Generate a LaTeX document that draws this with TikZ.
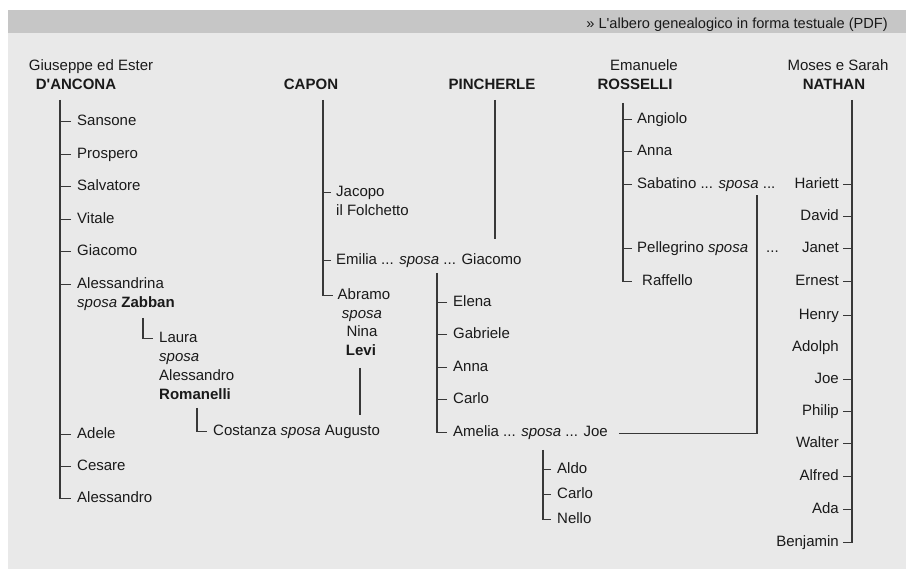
\documentclass[tikz,border=0pt]{standalone}
\usepackage{fontspec}
\setmainfont{Liberation Sans}
\definecolor{bgc}{HTML}{E9E9E9}
\definecolor{barc}{HTML}{C6C6C6}
\definecolor{txtc}{HTML}{1A1A1A}
\definecolor{lnc}{HTML}{383838}
\begin{document}
\begin{tikzpicture}[x=1pt,y=-1pt,
  nm/.style={font=\fontsize{15}{18}\selectfont, text=txtc, inner sep=0pt, text height=11pt, text depth=3pt, anchor=west, yshift=-2.5pt},
  nmr/.style={nm, anchor=east},
  nmc/.style={nm, anchor=center},
  ln/.style={draw=lnc, line width=1.8pt},
  dsh/.style={draw=lnc, line width=1.8pt}]
\useasboundingbox (0,0) rectangle (906,569);
\fill[white] (0,0) rectangle (906,569);
\fill[bgc] (8,10) rectangle (906,569);
\fill[barc] (8,10) rectangle (906,33);
\node[nm, anchor=east, font=\fontsize{14.6}{17}\selectfont] (pdf) at (888,22) {» L\textquotesingle albero genealogico in forma testuale (PDF)};
% headers
\node[nmc] (gh1) at (91,64) {Giuseppe ed Ester};
\node[nmc] (dancona) at (76,83) {\textbf{D\textquotesingle ANCONA}};
\node[nmc] (capon) at (311,83) {\textbf{CAPON}};
\node[nmc] (pincherle) at (492,83) {\textbf{PINCHERLE}};
\node[nmc] (eh1) at (644,64) {Emanuele};
\node[nmc] (rosselli) at (635,83) {\textbf{ROSSELLI}};
\node[nmc] (mh1) at (838,64) {Moses e Sarah};
\node[nmc] (nathan) at (834,83) {\textbf{NATHAN}};
% D'ANCONA
\coordinate (dA) at (60,100);
\node[nm] (sansone) at (77,119) {Sansone};
\node[nm] (prospero) at (77,152) {Prospero};
\node[nm] (salvatore) at (77,184) {Salvatore};
\node[nm] (vitale) at (77,217) {Vitale};
\node[nm] (giacomo) at (77,249) {Giacomo};
\node[nm] (alessandrina) at (77,282) {Alessandrina};
\node[nm] (zabban) at (77,301) {\textit{sposa} \textbf{Zabban}};
\node[nm] (adele) at (77,432) {Adele};
\node[nm] (cesare) at (77,464) {Cesare};
\node[nm] (alessandro) at (77,496) {Alessandro};
\draw[ln] (dA) |- ([xshift=-6pt]alessandro.west);
\foreach \c in {sansone,prospero,salvatore,vitale,giacomo,alessandrina,adele,cesare}
  \draw[dsh] ([xshift=-6pt]\c.west) -- (\c.west -| dA);
% Laura
\coordinate (lz) at (143,318);
\node[nm] (laura) at (159,336) {Laura};
\node[nm] (lsposa) at (159,355) {\textit{sposa}};
\node[nm] (lalessandro) at (159,374) {Alessandro};
\node[nm] (romanelli) at (159,393) {\textbf{Romanelli}};
\draw[ln] (lz) |- ([xshift=-6pt]laura.west);
% Costanza
\coordinate (cr) at (197,408);
\node[nm] (costanza) at (213,429) {Costanza \textit{sposa} Augusto};
\draw[ln] (cr) |- ([xshift=-6pt]costanza.west);
% CAPON
\coordinate (cA) at (323,100);
\node[nm] (jacopo) at (336,190) {Jacopo};
\node[nm] (folchetto) at (336,209) {il Folchetto};
\node[nm] (emilia) at (336,258) {Emilia ... \textit{sposa} ... Giacomo};
\node[nmc] (abramo) at (364,293) {Abramo};
\node[nmc] (asposa) at (362,312) {\textit{sposa}};
\node[nmc] (nina) at (362,330) {Nina};
\node[nmc] (levi) at (361,349) {\textbf{Levi}};
\draw[ln] (cA) |- ([xshift=-5pt]abramo.west);
\foreach \c in {jacopo,emilia}
  \draw[dsh] ([xshift=-5pt]\c.west) -- (\c.west -| cA);
\coordinate (lv1) at (360,368);
\coordinate (lv2) at (360,415);
\draw[ln] (lv1) -- (lv2);
% PINCHERLE
\coordinate (pA) at (495,100);
\coordinate (pB) at (495,239);
\draw[ln] (pA) -- (pB);
% Emilia children
\coordinate (eA) at (437,273);
\node[nm] (elena) at (453,300) {Elena};
\node[nm] (gabriele) at (453,332) {Gabriele};
\node[nm] (annaP) at (453,365) {Anna};
\node[nm] (carloP) at (453,397) {Carlo};
\node[nm] (amelia) at (453,430) {Amelia ... \textit{sposa} ... Joe};
\draw[ln] (eA) |- ([xshift=-6pt]amelia.west);
\foreach \c in {elena,gabriele,annaP,carloP}
  \draw[dsh] ([xshift=-6pt]\c.west) -- (\c.west -| eA);
\coordinate (sb) at (757,195);
\draw[ln] ([xshift=11pt,yshift=-1pt]amelia.east) -| (sb);
% Amelia children
\coordinate (aA) at (543,450);
\node[nm] (aldo) at (557,467) {Aldo};
\node[nm] (carloA) at (557,492) {Carlo};
\node[nm] (nello) at (557,517) {Nello};
\draw[ln] (aA) |- ([xshift=-6pt]nello.west);
\foreach \c in {aldo,carloA}
  \draw[dsh] ([xshift=-6pt]\c.west) -- (\c.west -| aA);
% ROSSELLI
\coordinate (rA) at (623,103);
\node[nm] (angiolo) at (637,117) {Angiolo};
\node[nm] (annaR) at (637,149) {Anna};
\node[nm] (sabatino) at (637,182) {Sabatino ... \textit{sposa} ...};
\node[nm] (pellegrino) at (637,246) {Pellegrino \textit{sposa}};
\node[nm] (pdots) at (766,246) {...};
\node[nm] (raffello) at (642,279) {Raffello};
\draw[ln] (rA) |- ([xshift=-10pt]raffello.west);
\foreach \c in {angiolo,annaR,sabatino,pellegrino}
  \draw[dsh] ([xshift=-5pt]\c.west) -- (\c.west -| rA);
% NATHAN
\coordinate (nA) at (852,100);
\node[nmr] (hariett) at (839,182) {Hariett};
\node[nmr] (david) at (839,214) {David};
\node[nmr] (janet) at (839,246) {Janet};
\node[nmr] (ernest) at (839,279) {Ernest};
\node[nmr] (henry) at (839,313) {Henry};
\node[nmr] (adolph) at (839,345) {Adolph};
\node[nmr] (joe) at (839,377) {Joe};
\node[nmr] (philip) at (839,409) {Philip};
\node[nmr] (walter) at (839,441) {Walter};
\node[nmr] (alfred) at (839,474) {Alfred};
\node[nmr] (ada) at (839,507) {Ada};
\node[nmr] (benjamin) at (839,540) {Benjamin};
\draw[ln] (nA) |- ([xshift=4pt]benjamin.east);
\foreach \c in {hariett,david,janet,ernest,henry,joe,philip,walter,alfred,ada}
  \draw[dsh] ([xshift=4pt]\c.east) -- (\c.east -| nA);
\end{tikzpicture}
\end{document}
